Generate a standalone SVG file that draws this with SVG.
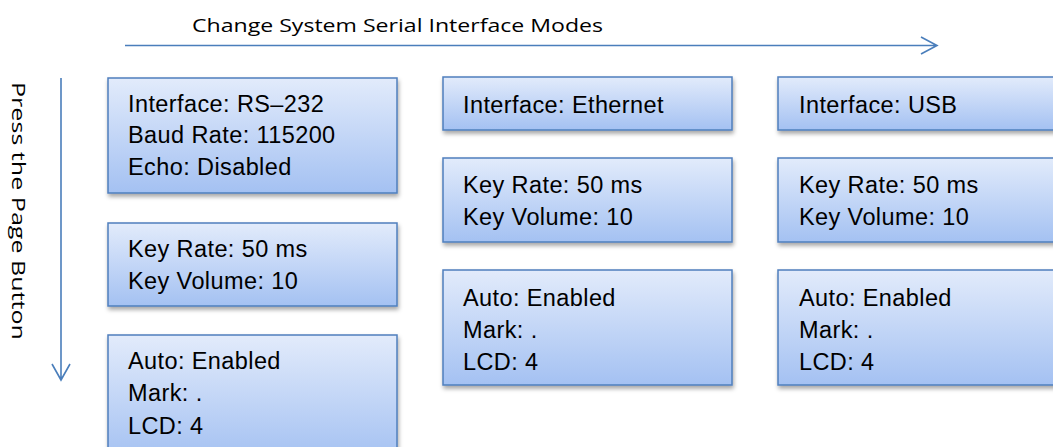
<svg xmlns="http://www.w3.org/2000/svg" width="1053" height="447" viewBox="0 0 1053 447">
<style>
.box{fill:url(#g);stroke:#4f7fbd;stroke-width:1.5;filter:url(#sh)}
.t{font-family:"Liberation Sans",Arial,sans-serif;font-size:23.5px;fill:#000;letter-spacing:0.4px}
.lbl{font-family:"Open Sans","Liberation Sans",sans-serif;font-size:19px;fill:#000}
.ar{fill:none;stroke:#4a7ebb;stroke-width:1.6}
</style>
<defs>
<linearGradient id="g" x1="0" y1="0" x2="0" y2="1">
<stop offset="0" stop-color="#e2ebfb"/>
<stop offset="1" stop-color="#a4c1f2"/>
</linearGradient>
<filter id="sh" x="-10%" y="-10%" width="130%" height="140%">
<feDropShadow dx="1" dy="3" stdDeviation="2" flood-color="#000" flood-opacity="0.35"/>
</filter>
</defs>
<g id="connectors">
<path class="ar" d="M125 45.5H937M921 37L937 45.5L921 54"/>
<path class="ar" d="M61 78V380M52 364L61 380L70 364"/>
</g>
<text class="lbl" x="192" y="32" textLength="411" lengthAdjust="spacingAndGlyphs">Change System  Serial Interface Modes</text>
<text class="lbl" transform="translate(12 82) rotate(90)" x="0" y="0" font-size="21" textLength="258" lengthAdjust="spacingAndGlyphs">Press the Page Button</text>
<g id="n1">
<rect class="box" x="108" y="78" width="289" height="115"/>
<text class="t" x="128" y="112">Interface: RS–232</text>
<text class="t" x="128" y="143">Baud Rate: 115200</text>
<text class="t" x="128" y="175">Echo: Disabled</text>
</g>
<g id="n2">
<rect class="box" x="108" y="223" width="289" height="83"/>
<text class="t" x="128" y="257">Key Rate: 50 ms</text>
<text class="t" x="128" y="289">Key Volume: 10</text>
</g>
<g id="n3">
<rect class="box" x="108" y="335" width="289" height="125"/>
<text class="t" x="128" y="369">Auto: Enabled</text>
<text class="t" x="128" y="401">Mark: .</text>
<text class="t" x="128" y="434">LCD: 4</text>
</g>
<g id="n4">
<rect class="box" x="443" y="77" width="289" height="53"/>
<text class="t" x="463" y="113">Interface: Ethernet</text>
</g>
<g id="n5">
<rect class="box" x="443" y="158" width="289" height="84"/>
<text class="t" x="463" y="193">Key Rate: 50 ms</text>
<text class="t" x="463" y="225">Key Volume: 10</text>
</g>
<g id="n6">
<rect class="box" x="443" y="270" width="289" height="115"/>
<text class="t" x="463" y="306">Auto: Enabled</text>
<text class="t" x="463" y="338">Mark: .</text>
<text class="t" x="463" y="370">LCD: 4</text>
</g>
<g id="n7">
<rect class="box" x="778" y="77" width="289" height="53"/>
<text class="t" x="799" y="113">Interface: USB</text>
</g>
<g id="n8">
<rect class="box" x="778" y="158" width="289" height="84"/>
<text class="t" x="799" y="193">Key Rate: 50 ms</text>
<text class="t" x="799" y="225">Key Volume: 10</text>
</g>
<g id="n9">
<rect class="box" x="778" y="270" width="289" height="115"/>
<text class="t" x="799" y="306">Auto: Enabled</text>
<text class="t" x="799" y="338">Mark: .</text>
<text class="t" x="799" y="370">LCD: 4</text>
</g>
</svg>
